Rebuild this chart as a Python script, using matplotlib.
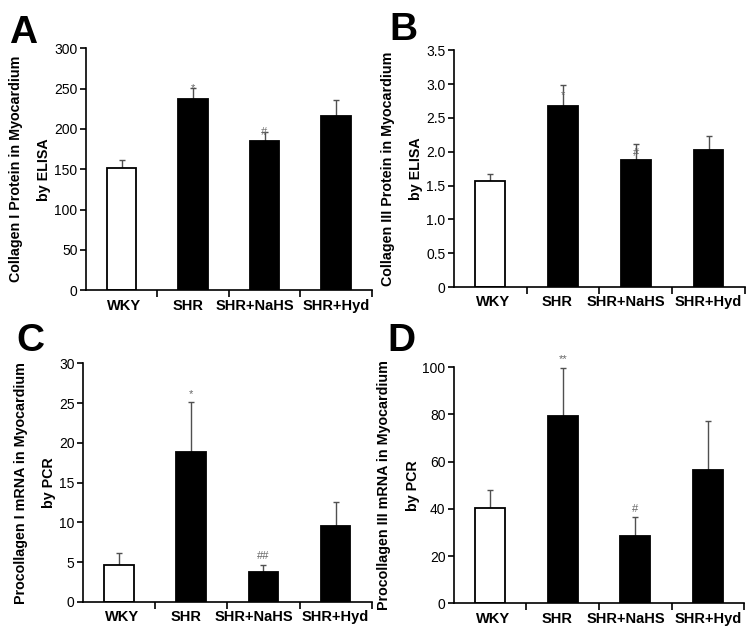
import numpy as np
import matplotlib.pyplot as plt
from matplotlib.ticker import FixedLocator

plt.rcParams['font.family'] = ['Liberation Sans', 'DejaVu Sans']

groups = ['WKY', 'SHR', 'SHR+NaHS', 'SHR+Hyd']

# panel A: collagen I protein (ELISA)
col1_mean = [152, 237, 185, 216]
col1_err = [10, 14, 11, 20]
col1_marks = ['', '*', '#', '']

# panel B: collagen III protein (ELISA)
col3_mean = [1.57, 2.68, 1.88, 2.03]
col3_err = [0.10, 0.30, 0.24, 0.20]
col3_marks = ['', '*', '#', '']

# panel C: procollagen I mRNA (PCR)
pro1_mean = [4.6, 18.8, 3.8, 9.6]
pro1_err = [1.5, 6.3, 0.9, 3.0]
pro1_marks = ['', '*', '##', '']

# panel D: procollagen III mRNA (PCR)
pro3_mean = [40.2, 79.3, 28.5, 56.3]
pro3_err = [7.8, 20.5, 8.0, 21.0]
pro3_marks = ['', '**', '#', '']

panels = [
    ('A', col1_mean, col1_err, col1_marks, 'Collagen I Protein in Myocardium\nby ELISA',
     (0, 300), np.arange(0, 301, 50), [str(v) for v in range(0, 301, 50)], 0),
    ('B', col3_mean, col3_err, col3_marks, 'Collagen III Protein in Myocardium\nby ELISA',
     (0, 3.5), np.arange(0, 3.51, 0.5), ['0', '0.5', '1.0', '1.5', '2.0', '2.5', '3.0', '3.5'], -7),
    ('C', pro1_mean, pro1_err, pro1_marks, 'Procollagen I mRNA in Myocardium\nby PCR',
     (0, 30), np.arange(0, 31, 5), [str(v) for v in range(0, 31, 5)], 6),
    ('D', pro3_mean, pro3_err, pro3_marks, 'Procollagen III mRNA in Myocardium\nby PCR',
     (0, 100), np.arange(0, 101, 20), [str(v) for v in range(0, 101, 20)], 6),
]

boxes = [
    [0.114, 0.543, 0.379, 0.381],
    [0.602, 0.548, 0.386, 0.373],
    [0.110, 0.052, 0.383, 0.376],
    [0.602, 0.050, 0.385, 0.372],
]
letter_pos = [(0.012, 0.977), (0.516, 0.981), (0.022, 0.491), (0.514, 0.491)]
label_shift = [2, -4, -7, 0]  # points, the labels sit slightly off the bar centres

fig = plt.figure(figsize=(7.54, 6.35), dpi=100)

for (letter, mean, err, marks, ylab, ylim, yt, ytl, dy), box, lp in zip(panels, boxes, letter_pos):
    ax = fig.add_axes(box)
    x = np.arange(len(groups))
    colors = ['white', 'black', 'black', 'black']
    ax.bar(x, mean, width=0.41, color=colors, edgecolor='black', linewidth=1.3, zorder=2)
    ax.errorbar(x, mean, yerr=[np.zeros(len(err)), err], fmt='none', ecolor='#505050',
                elinewidth=1.0, capsize=2.5, capthick=1.0, zorder=1)
    for xi, m, e, t in zip(x, mean, err, marks):
        if t:
            ax.annotate(t, (xi, m + e), xytext=(0, dy), textcoords='offset points',
                        ha='center', va='center', fontsize=8, color='#666666', zorder=3)
    ax.set_xlim(-0.5, 3.5)
    ax.set_ylim(*ylim)
    ax.set_yticks(yt)
    ax.set_yticklabels(ytl, fontsize=10)
    # category names drawn as text so each can sit a little off centre
    ax.set_xticks([])
    for xi, g, sh in zip(x, groups, label_shift):
        ax.annotate(g, (xi, 0), xycoords=('data', 'axes fraction'), xytext=(sh, -6),
                    textcoords='offset points', ha='center', va='top',
                    fontsize=10.5, fontweight='bold', annotation_clip=False)
    ax.xaxis.set_minor_locator(FixedLocator([0.5, 1.5, 2.5, 3.5]))
    ax.tick_params(axis='x', which='minor', length=5, width=1.2, direction='out')
    ax.tick_params(axis='y', length=4, width=1.2, direction='out', pad=2)
    for s in ['top', 'right']:
        ax.spines[s].set_visible(False)
    for s in ['left', 'bottom']:
        ax.spines[s].set_linewidth(1.2)
    ax.set_ylabel(ylab, fontsize=10.3, fontweight='bold', labelpad=2, linespacing=2.3)
    fig.text(lp[0], lp[1], letter, fontsize=28, fontweight='bold', va='top', ha='left')

fig.savefig('out.png', dpi=100)
